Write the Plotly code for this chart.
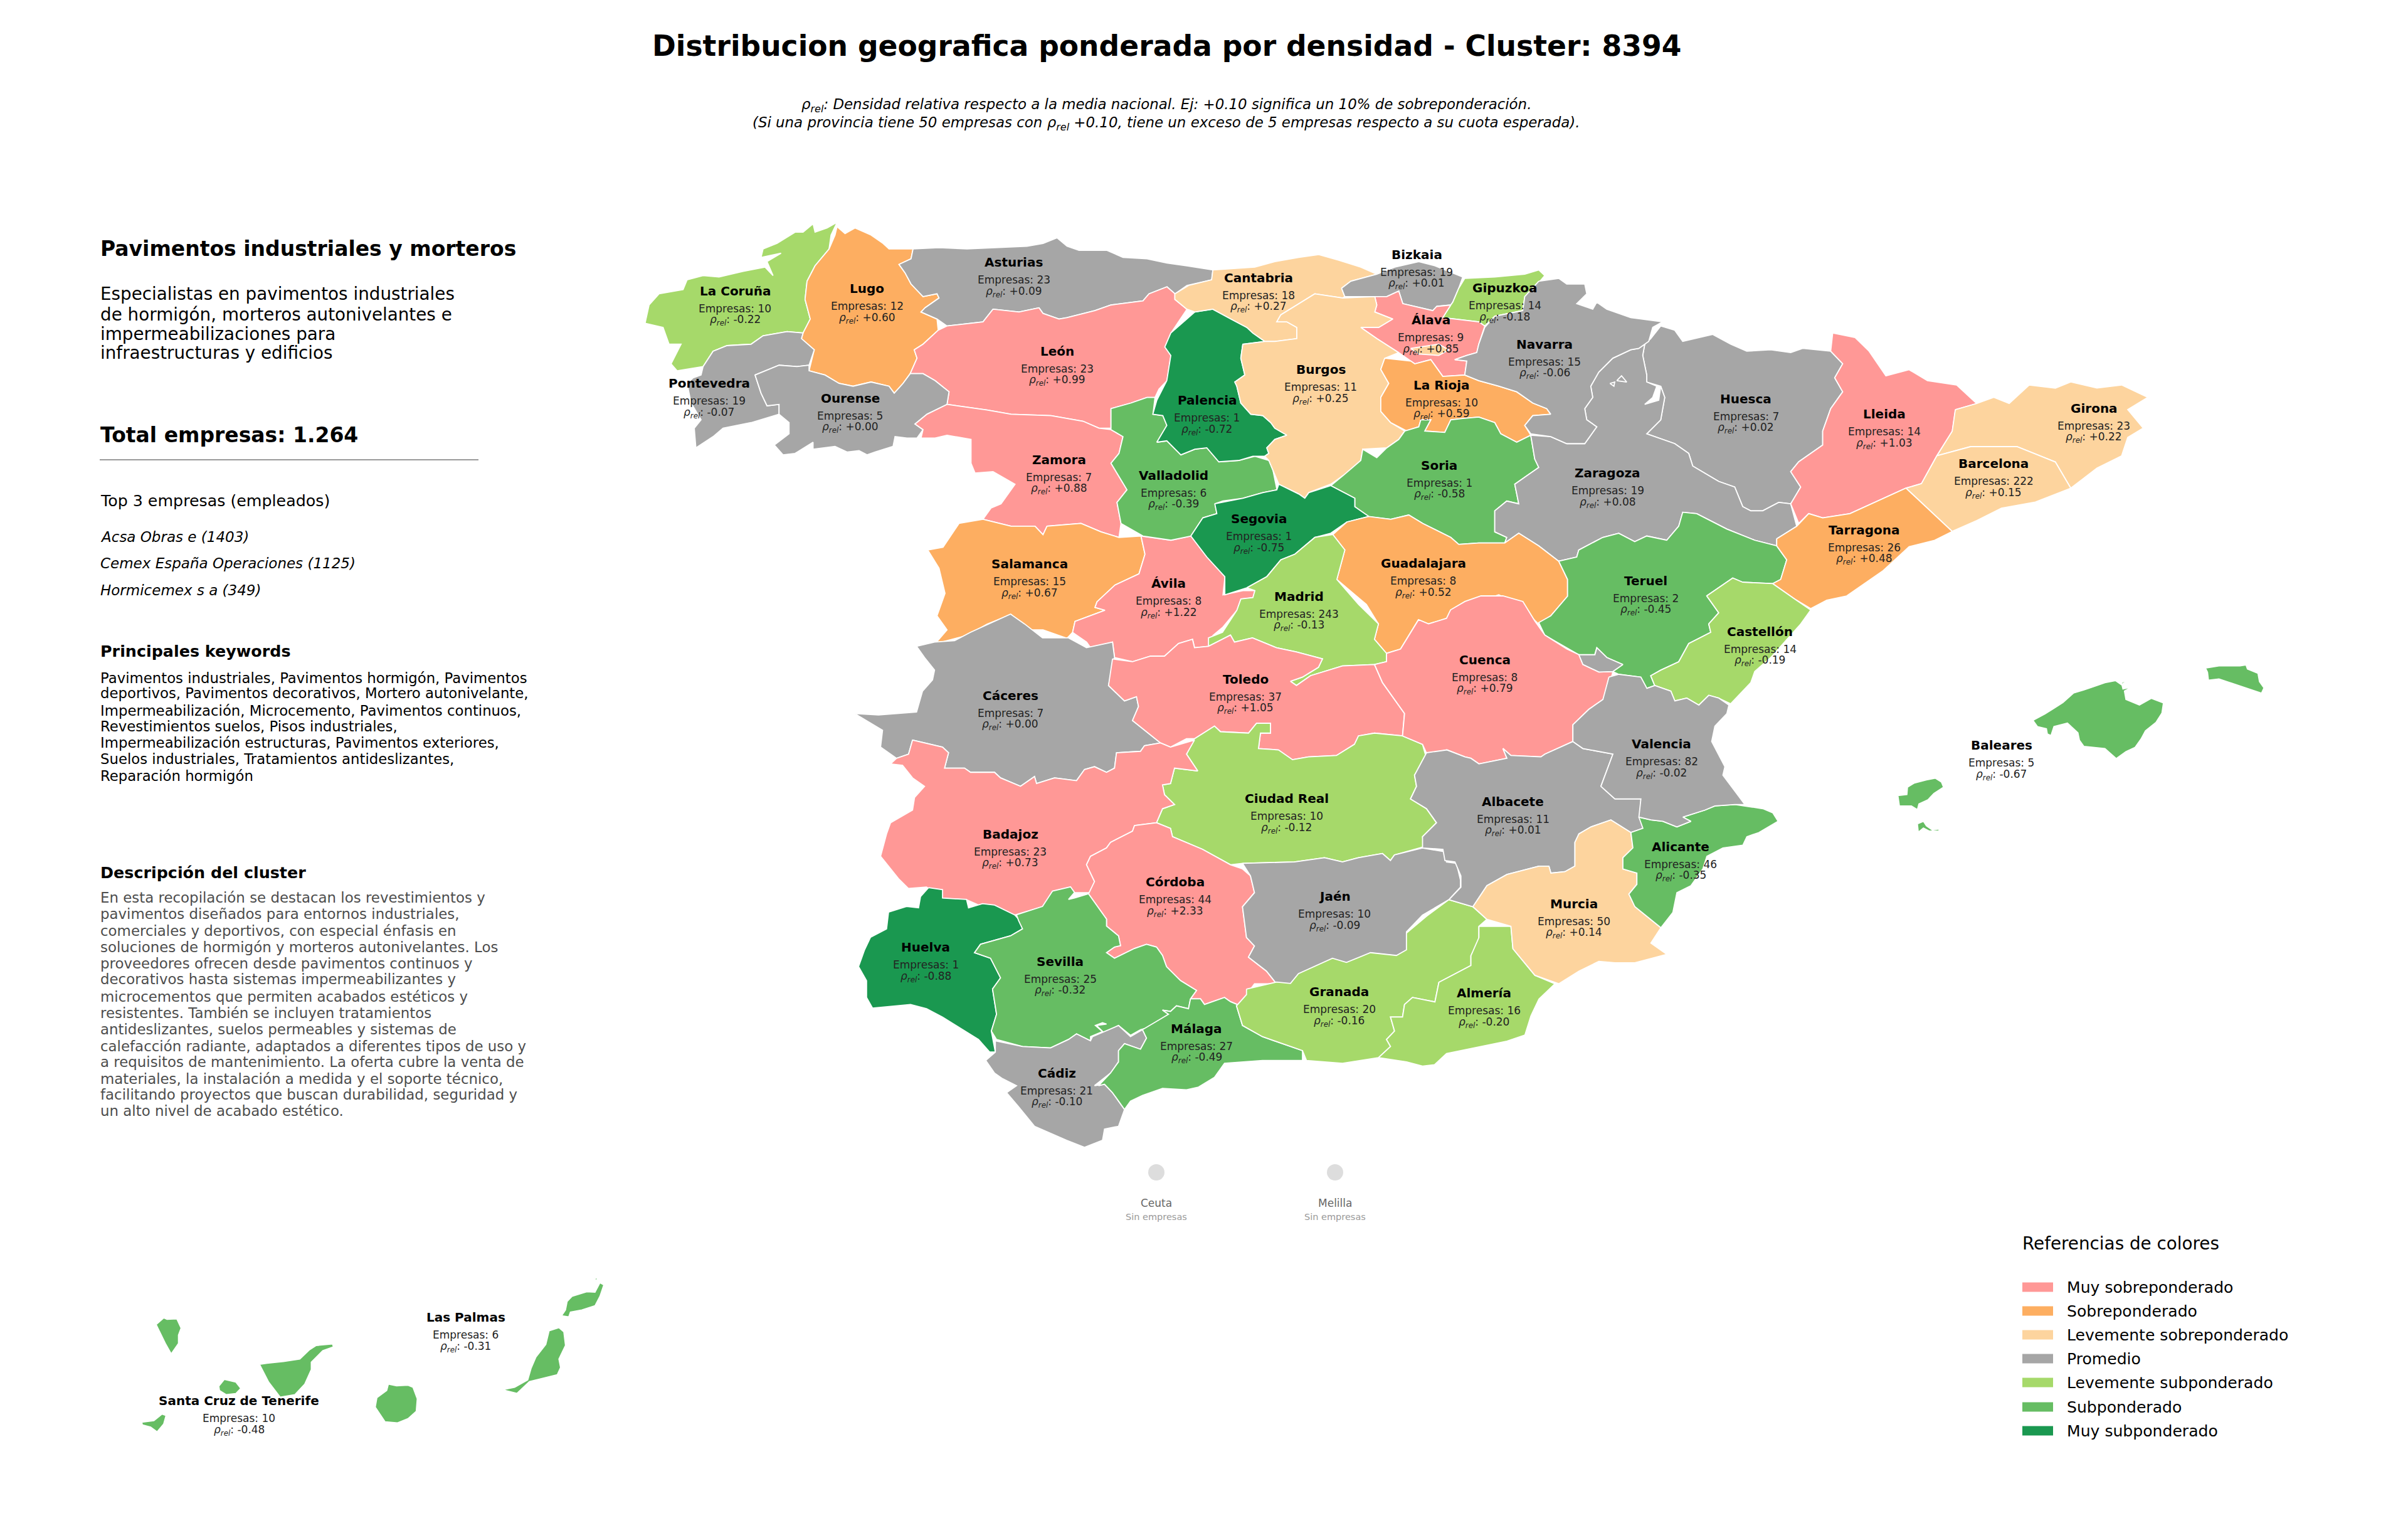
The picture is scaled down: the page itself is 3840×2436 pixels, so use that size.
import plotly.graph_objects as go

# Province data
PROVINCIAS = ["La Coruña", "Lugo", "Asturias", "León", "Pontevedra", "Ourense", "Zamora", "Salamanca", "Ávila",
              "Valladolid", "Palencia", "Cantabria", "Bizkaia", "Gipuzkoa", "Álava", "Burgos", "La Rioja", "Soria",
              "Huesca", "Zaragoza", "Navarra", "Segovia", "Guadalajara", "Madrid", "Teruel", "Lleida", "Girona",
              "Barcelona", "Tarragona", "Castellón", "Cáceres", "Toledo", "Ciudad Real", "Badajoz", "Córdoba", "Jaén",
              "Huelva", "Sevilla", "Cádiz", "Málaga", "Granada", "Almería", "Cuenca", "Albacete", "Murcia",
              "Alicante", "Valencia", "Baleares", "Las Palmas", "Santa Cruz de Tenerife"]
EMPRESAS = [10, 12, 23, 23, 19, 5, 7, 15, 8,
            6, 1, 18, 19, 14, 9, 11, 10, 1,
            7, 19, 15, 1, 8, 243, 2, 14, 23,
            222, 26, 14, 7, 37, 10, 23, 44, 10,
            1, 25, 21, 27, 20, 16, 8, 11, 50,
            46, 82, 5, 6, 10]
RHO = [-0.22, 0.60, 0.09, 0.99, -0.07, 0.00, 0.88, 0.67, 1.22,
       -0.39, -0.72, 0.27, 0.01, -0.18, 0.85, 0.25, 0.59, -0.58,
       0.02, 0.08, -0.06, -0.75, 0.52, -0.13, -0.45, 1.03, 0.22,
       0.15, 0.48, -0.19, 0.00, 1.05, -0.12, 0.73, 2.33, -0.09,
       -0.88, -0.32, -0.10, -0.49, -0.16, -0.20, 0.79, 0.01, 0.14,
       -0.35, -0.02, -0.67, -0.31, -0.48]

CATEGORIAS = ["Muy sobreponderado", "Sobreponderado", "Levemente sobreponderado", "Promedio",
              "Levemente subponderado", "Subponderado", "Muy subponderado"]
COLORES = ["#FF9896", "#FDAE61", "#FDD49E", "#A6A6A6", "#A6D96A", "#66BD63", "#1A9850"]

# Digitised tiles: name -> left, top, x scale, y scale
TILES = {"A": (1000, 330, 1.568, 2.24), "B": (1950, 330, 1.568, 2.24), "C": (1350, 950, 1.568, 2.24),
         "D": (1350, 1300, 1.568, 2.24), "E": (2250, 950, 1.568, 2.24), "OV": (0, 0, 0.4073, 0.4073),
         "BAL": (2950, 1050, 2.09, 3.0), "CAN": (180, 2020, 1.912, 3.0)}

# Outlines: province -> tile, list of rings
OUTLINES = {
    "La Coruña": ("A", [[(525,55),(510,100),(505,150),(470,210),(450,265),(445,330),(458,400),(440,450),(400,445),(340,460),(310,490),(250,495),(215,515),(190,570),(125,585),(110,560),(135,490),(105,490),(90,430),(45,415),(55,350),(80,310),(140,295),(150,260),(190,245),(230,250),(290,230),(345,215),(365,245),(350,195),(385,165),(335,180),(340,150),(375,130),(420,90),(440,90),(465,60),(470,90),(500,75)]]),
    "Lugo": ("A", [[(525,70),(545,95),(570,75),(610,100),(640,130),(655,150),(715,150),(710,185),(680,205),(695,235),(710,275),(740,320),(775,310),(780,325),(745,360),(735,375),(775,400),(778,440),(740,490),(718,510),(725,540),(708,595),(690,630),(668,665),(655,640),(610,625),(565,640),(530,630),(495,600),(455,585),(468,510),(436,470),(440,450),(458,400),(445,330),(450,265),(470,210),(505,150),(520,100)]]),
    "Asturias": ("A", [[(715,150),(780,145),(850,150),(920,145),(1000,140),(1040,130),(1075,110),(1100,140),(1130,155),(1200,155),(1240,180),(1300,185),(1350,200),(1400,210),(1465,225),(1462,260),(1400,280),(1370,310),(1350,285),(1305,310),(1290,335),(1210,350),(1170,370),(1100,395),(1080,400),(1040,380),(1030,360),(980,375),(915,365),(890,410),(800,425),(775,400),(735,375),(745,360),(780,325),(775,310),(740,320),(710,275),(695,235),(680,205),(710,185)]]),
    "León": ("A", [[(800,425),(890,410),(915,365),(980,375),(1030,360),(1040,380),(1080,400),(1100,395),(1170,370),(1210,350),(1290,335),(1305,310),(1350,285),(1370,310),(1370,330),(1400,365),(1360,450),(1345,500),(1360,530),(1350,620),(1330,650),(1320,680),(1300,680),(1260,700),(1210,720),(1210,790),(1180,790),(1140,765),(1060,745),(960,740),(900,725),(800,705),(805,660),(770,620),(740,595),(708,595),(725,540),(718,510),(740,490),(778,440)]]),
    "Pontevedra": ("A", [[(190,570),(215,515),(250,495),(310,490),(340,460),(400,445),(440,450),(436,470),(468,510),(455,565),(425,570),(380,565),(320,600),(335,665),(350,710),(380,705),(380,740),(310,770),(240,790),(215,820),(172,860),(168,790),(185,760),(160,700),(150,630),(165,610),(185,600)]]),
    "Ourense": ("A", [[(320,600),(380,565),(425,570),(455,565),(455,585),(495,600),(530,630),(565,640),(610,625),(655,640),(668,665),(690,630),(708,595),(740,595),(770,620),(805,660),(800,705),(750,740),(720,775),(740,795),(725,825),(700,825),(670,820),(665,855),(620,875),(600,885),(580,870),(550,875),(520,855),(465,865),(465,840),(420,880),(390,885),(368,850),(405,810),(405,770),(380,740),(380,705),(350,710),(335,665)]]),
    "Zamora": ("A", [[(800,705),(900,725),(960,740),(1060,745),(1140,765),(1180,790),(1210,795),(1240,820),(1230,880),(1210,915),(1250,1010),(1225,1055),(1235,1130),(1230,1180),(1185,1160),(1135,1130),(1050,1140),(1040,1170),(1020,1140),(960,1140),(890,1115),(910,1075),(935,1060),(970,990),(915,945),(870,950),(860,915),(860,830),(800,815),(770,825),(735,825),(740,795),(720,775),(750,740)]]),
    "Salamanca": ("A", [[(890,1115),(960,1140),(1020,1140),(1040,1170),(1050,1140),(1135,1130),(1185,1160),(1230,1180),(1285,1175),(1295,1240),(1280,1310),(1220,1350),(1175,1410),(1170,1430),(1195,1440),(1120,1480),(1114,1519),(1100,1540),(1040,1510),(1000,1510),(960,1455),(900,1490),(850,1530),(770,1560),(800,1510),(775,1460),(795,1380),(780,1290),(752,1225),(790,1215),(830,1130)]]),
    "Ávila": ("A", [[(1285,1175),(1360,1190),(1410,1175),(1450,1250),(1495,1320),(1490,1385),(1540,1370),(1570,1370),(1565,1395),(1535,1400),(1525,1440),(1490,1500),(1465,1530),(1454,1569),(1419,1574),(1414,1544),(1379,1559),(1344,1604),(1309,1604),(1264,1624),(1219,1609),(1214,1554),(1189,1564),(1159,1574),(1149,1554),(1114,1519),(1120,1480),(1195,1440),(1170,1430),(1175,1410),(1220,1350),(1280,1310),(1295,1240)]]),
    "Valladolid": ("A", [[(1210,720),(1260,700),(1300,680),(1320,680),(1315,740),(1340,745),(1350,780),(1325,840),(1350,835),(1385,885),(1420,865),(1450,860),(1480,910),(1530,905),(1570,890),(1605,905),(1615,940),(1625,1010),(1590,1020),(1540,1040),(1490,1050),(1470,1060),(1475,1095),(1440,1110),(1410,1175),(1360,1190),(1290,1175),(1235,1130),(1225,1055),(1250,1010),(1210,915),(1230,880),(1240,820),(1210,795)]]),
    "Palencia": ("B", [[(-70,375),(-25,365),(20,400),(60,430),(75,450),(105,480),(50,490),(45,540),(55,600),(30,625),(35,640),(45,700),(70,740),(100,745),(120,770),(130,790),(160,815),(130,830),(110,860),(115,880),(105,890),(75,890),(40,905),(-10,910),(-40,860),(-70,865),(-105,885),(-140,835),(-165,840),(-140,780),(-150,745),(-175,740),(-165,690),(-140,620),(-130,530),(-145,500),(-130,450)]]),
    "Cantabria": ("B", [[(-25,225),(80,215),(130,195),(190,180),(240,170),(290,190),(345,215),(385,240),(320,265),(297,290),(305,320),(300,325),(230,310),(185,350),(145,385),(135,410),(160,410),(185,430),(185,470),(130,480),(105,480),(75,450),(60,430),(20,400),(-25,365),(-70,375),(-90,365),(-120,330),(-120,310),(-85,280),(-28,260)]]),
    "Bizkaia": ("B", [[(297,290),(320,265),(385,240),(430,215),(490,195),(530,210),(600,250),(590,290),(575,340),(570,350),(535,355),(525,370),(450,345),(440,300),(410,320),(380,320),(305,320)]]),
    "Gipuzkoa": ("B", [[(605,255),(680,250),(755,240),(790,225),(805,245),(790,270),(755,320),(750,370),(680,390),(655,425),(640,410),(550,395),(570,350),(575,340),(590,290)]]),
    "Álava": ("B", [[(380,320),(410,320),(440,300),(450,345),(525,370),(535,355),(570,350),(550,395),(640,410),(655,425),(640,490),(635,520),(610,530),(580,545),(610,550),(605,600),(550,605),(520,545),(480,560),(460,540),(440,520),(385,470),(345,430),(390,430),(425,400),(380,375),(385,350)]]),
    "Burgos": ("B", [[(130,480),(185,470),(185,430),(160,410),(135,410),(145,385),(185,350),(230,310),(300,325),(380,320),(385,350),(380,375),(425,400),(390,430),(345,430),(385,470),(440,520),(405,540),(395,580),(415,630),(395,680),(395,730),(420,770),(455,800),(440,830),(410,860),(350,865),(345,905),(385,895),(300,960),(270,990),(215,1020),(205,1040),(190,1025),(140,990),(125,940),(115,905),(105,890),(115,880),(110,860),(130,830),(160,815),(130,790),(120,770),(100,745),(70,740),(45,700),(35,640),(30,625),(55,600),(45,540),(50,490),(105,480)],
                   [(470,505),(540,490),(565,510),(540,530),(490,525)]]),
    "La Rioja": ("B", [[(405,540),(440,545),(470,550),(480,560),(520,545),(550,605),(605,600),(640,620),(690,640),(735,660),(775,700),(810,720),(820,740),(775,745),(755,780),(770,815),(735,840),(695,810),(680,770),(640,750),(600,755),(570,760),(555,805),(505,800),(520,760),(495,760),(490,785),(460,800),(420,770),(395,730),(395,680),(415,630),(395,580)]]),
    "Soria": ("B", [[(455,800),(490,785),(495,760),(520,760),(505,800),(555,805),(570,760),(600,755),(640,750),(680,770),(695,810),(735,840),(770,815),(780,900),(790,930),(760,960),(730,990),(740,1060),(710,1050),(680,1085),(680,1160),(710,1180),(705,1200),(640,1200),(590,1205),(570,1180),(500,1130),(465,1100),(420,1115),(360,1105),(330,1070),(330,1040),(270,995),(300,960),(345,905),(350,865),(385,895),(410,860),(440,830)]]),
    "Huesca": ("B", [[(1095,425),(1130,440),(1150,480),(1180,470),(1225,455),(1270,490),(1310,515),(1370,510),(1420,520),(1450,505),(1520,515),(1550,560),(1530,610),(1550,660),(1520,720),(1500,800),(1500,850),(1440,910),(1420,945),(1445,1000),(1420,1060),(1390,1055),(1350,1085),(1320,1085),(1300,1070),(1280,1000),(1240,980),(1175,925),(1165,880),(1130,845),(1060,810),(1095,760),(1105,680),(1095,640),(1060,625),(1060,600),(1050,530),(1055,490),(1070,470)]]),
    "Zaragoza": ("B", [[(770,815),(820,820),(860,845),(905,845),(935,785),(910,760),(905,720),(925,680),(920,640),(940,590),(975,540),(1020,510),(1040,505),(1055,490),(1050,530),(1060,600),(1060,625),(1085,640),(1075,680),(1055,705),(1090,690),(1095,640),(1105,680),(1095,760),(1060,810),(1130,845),(1165,880),(1175,925),(1240,980),(1280,1000),(1300,1070),(1320,1085),(1350,1085),(1390,1055),(1420,1060),(1435,1140),(1385,1185),(1385,1210),(1330,1190),(1260,1150),(1185,1095),(1150,1090),(1140,1140),(1110,1190),(1060,1175),(1030,1195),(990,1165),(950,1180),(890,1225),(885,1250),(840,1265),(790,1210),(740,1165),(705,1200),(710,1180),(680,1160),(680,1085),(710,1050),(740,1060),(730,990),(760,960),(790,930),(780,900)]]),
    "Navarra": ("B", [[(790,265),(840,255),(860,275),(905,275),(910,310),(885,345),(925,365),(935,340),(960,365),(1020,395),(1100,410),(1075,430),(1065,480),(1040,505),(1020,510),(975,540),(940,590),(920,640),(925,680),(905,720),(910,760),(935,785),(905,845),(860,845),(820,820),(770,810),(755,780),(775,745),(820,740),(810,720),(775,700),(735,660),(690,640),(640,620),(605,600),(610,550),(580,545),(610,530),(635,520),(640,490),(655,430),(680,390),(750,370),(755,320)],
                    [(968,630),(980,625),(978,640)], [(985,620),(997,603),(1010,625)]]),
    "Segovia": ("B", [[(-20,1060),(50,1040),(100,1020),(135,1010),(140,990),(190,1025),(205,1040),(215,1020),(270,995),(330,1040),(330,1070),(365,1105),(310,1125),(270,1165),(230,1180),(180,1240),(145,1260),(110,1320),(60,1360),(5,1385),(5,1320),(-40,1250),(-80,1175),(-50,1110),(-15,1095)]]),
    "Guadalajara": ("B", [[(275,1170),(310,1125),(365,1105),(420,1115),(465,1100),(500,1130),(570,1180),(590,1205),(640,1200),(705,1200),(740,1165),(790,1210),(840,1265),(862,1330),(862,1390),(820,1460),(790,1490),(740,1420),(690,1385),(600,1430),(560,1470),(514,1489),(489,1474),(444,1579),(409,1594),(379,1544),(389,1489),(359,1419),(334,1389),(285,1330),(305,1225)]]),
    "Madrid": ("C", [[(1216,-219),(1246,-164),(1226,-59),(1280,30),(1330,100),(1320,155),(1350,205),(1350,235),(1320,245),(1240,250),(1160,285),(1125,320),(1110,305),(1140,290),(1180,255),(1190,225),(1125,200),(1075,185),(1015,150),(970,165),(960,140),(905,180),(905,150),(940,130),(976,51),(986,11),(1016,6),(1021,-19),(1001,-29),(1051,-69),(1086,-129),(1121,-149),(1171,-209)],
                  [(815,460),(850,490),(845,515),(810,540),(795,525)]]),
    "Teruel": ("B", [[(840,1265),(885,1250),(890,1225),(950,1180),(990,1165),(1030,1195),(1060,1175),(1110,1190),(1140,1140),(1150,1090),(1185,1095),(1260,1150),(1330,1190),(1385,1210),(1410,1260),(1395,1330),(1375,1345),(1300,1340),(1275,1325),(1240,1360),(1210,1389),(1240,1449),(1215,1489),(1220,1519),(1165,1559),(1140,1624),(1095,1654),(1070,1674),(1080,1709),(1060,1719),(1045,1679),(990,1669),(975,1659),(1000,1634),(960,1609),(935,1574),(930,1599),(890,1599),(805,1529),(790,1484),(820,1460),(862,1390),(862,1330)]]),
    "Lleida": ("B", [[(1525,450),(1581,466),(1616,515),(1658,603),(1716,581),(1762,620),(1835,636),(1885,702),(1832,724),(1824,801),(1785,889),(1747,988),(1708,1004),(1639,1049),(1568,1095),(1500,1110),(1465,1095),(1440,1130),(1420,1060),(1445,1000),(1420,945),(1440,910),(1500,850),(1500,800),(1520,720),(1550,660),(1530,610),(1550,560),(1520,515)]]),
    "Girona": ("OV", [[(1270,266),(1284,262),(1295,258),(1305,262),(1318,250),(1335,252),(1345,248),(1362,252),(1378,250),(1395,258),(1382,266),(1392,278),(1382,284),(1378,296),(1362,304),(1345,317),(1335,300),(1310,290),(1280,290),(1258,296),(1268,280)]]),
    "Barcelona": ("OV", [[(1258,296),(1280,290),(1310,290),(1335,300),(1345,317),(1322,326),(1300,330),(1284,338),(1268,345),(1238,317),(1248,314)]]),
    "Tarragona": ("B", [[(1385,1185),(1435,1140),(1465,1095),(1500,1110),(1568,1095),(1639,1049),(1708,1004),(1824,1159),(1780,1190),(1716,1213),(1650,1300),(1560,1389),(1510,1404),(1470,1434),(1430,1400),(1375,1345),(1395,1330),(1410,1260),(1385,1210)]]),
    "Castellón": ("B", [[(1210,1389),(1240,1360),(1275,1325),(1300,1340),(1375,1345),(1430,1400),(1470,1439),(1445,1489),(1370,1609),(1330,1659),(1320,1699),(1270,1774),(1240,1754),(1215,1744),(1190,1779),(1160,1754),(1130,1764),(1120,1729),(1080,1709),(1070,1674),(1095,1654),(1140,1624),(1165,1559),(1220,1519),(1215,1489),(1240,1449)]]),
    "Cáceres": ("C", [[(220,165),(270,160),(310,130),(370,90),(410,65),(445,100),(490,150),(555,150),(600,185),(665,165),(670,220),(655,320),(695,375),(725,360),(730,395),(715,445),(785,525),(745,535),(735,555),(675,560),(670,615),(650,630),(620,610),(595,620),(575,660),(520,650),(475,670),(470,645),(435,680),(385,650),(370,630),(310,630),(295,615),(245,615),(255,560),(240,540),(165,515),(155,565),(125,580),(85,540),(90,480),(20,420),(80,425),(175,415),(190,340),(215,300),(220,265),(195,220),(175,180)]]),
    "Toledo": ("C", [[(665,225),(715,235),(760,215),(795,215),(830,170),(865,155),(870,185),(905,180),(960,140),(970,165),(1015,150),(1075,185),(1125,200),(1190,225),(1180,255),(1140,290),(1110,305),(1125,320),(1160,285),(1240,250),(1320,245),(1340,310),(1395,420),(1390,500),(1320,490),(1280,500),(1270,530),(1225,570),(1155,575),(1115,585),(1080,550),(1030,545),(1035,490),(1060,490),(1060,455),(1025,455),(1005,490),(935,485),(920,465),(870,510),(850,510),(810,540),(785,525),(715,445),(730,395),(725,360),(695,375),(655,320)]]),
    "Ciudad Real": ("C", [[(870,510),(920,465),(935,485),(1005,490),(1025,455),(1060,455),(1060,490),(1035,490),(1030,545),(1080,550),(1115,585),(1155,575),(1225,570),(1270,530),(1280,500),(1320,490),(1390,500),(1440,530),(1450,580),(1420,640),(1425,680),(1410,725),(1450,760),(1475,810),(1440,860),(1445,895),(1370,925),(1360,945),(1340,920),(1280,935),(1240,950),(1195,935),(1120,950),(990,955),(960,960),(890,905),(815,860),(810,830),(775,810),(790,760),(820,745),(795,710),(790,675),(810,670),(820,615),(878,625),(850,565)]]),
    "Badajoz": ("C", [[(165,515),(240,540),(255,560),(245,615),(295,615),(310,630),(370,630),(385,650),(435,680),(470,645),(475,670),(520,650),(575,660),(595,620),(620,610),(650,630),(670,615),(675,560),(735,555),(745,535),(785,525),(810,540),(870,515),(850,565),(878,625),(820,615),(810,670),(790,675),(795,710),(820,745),(790,760),(775,810),(720,820),(715,840),(660,880),(650,900),(610,930),(600,960),(620,1020),(610,1060),(570,1060),(560,1040),(515,1055),(490,1110),(420,1140),(370,1110),(340,1110),(300,1085),(240,1080),(200,1040),(155,1045),(130,1010),(85,930),(100,850),(110,810),(165,765),(170,720),(195,680),(165,650),(140,605),(110,600),(125,580),(155,565)]]),
    "Córdoba": ("C", [[(720,820),(775,810),(810,830),(815,860),(890,905),(960,960),(990,975),(1010,1000),(1020,1060),(990,1110),(1000,1220),(1020,1250),(1005,1290),(1050,1340),(1075,1385),(1020,1385),(1000,1424),(985,1464),(960,1449),(945,1434),(895,1459),(885,1439),(860,1439),(875,1409),(835,1374),(800,1324),(790,1284),(775,1254),(750,1244),(720,1259),(670,1294),(650,1274),(670,1254),(685,1249),(680,1214),(650,1179),(650,1154),(605,1064),(620,1020),(600,960),(610,930),(650,900),(660,880),(715,840)]]),
    "Jaén": ("C", [[(990,955),(1120,950),(1195,935),(1240,950),(1280,935),(1340,920),(1360,945),(1370,925),(1440,900),(1500,915),(1500,950),(1525,955),(1535,1015),(1535,1040),(1506,1085),(1440,1140),(1400,1200),(1400,1270),(1375,1285),(1310,1275),(1250,1320),(1215,1295),(1130,1350),(1110,1385),(1075,1385),(1050,1340),(1005,1290),(1020,1250),(1000,1220),(990,1110),(1020,1060),(1010,1000)]]),
    "Huelva": ("D", [[(205,258),(240,265),(240,295),(300,300),(305,330),(340,315),(370,320),(420,355),(440,385),(440,405),(410,430),(335,460),(320,490),(360,510),(385,580),(365,620),(375,710),(362,770),(372,845),(358,845),(330,800),(240,720),(200,690),(160,675),(65,688),(50,650),(50,590),(30,540),(45,480),(60,435),(100,405),(105,345),(150,325),(180,330),(185,290)]]),
    "Sevilla": ("D", [[(425,355),(490,325),(515,270),(560,255),(570,275),(555,300),(570,295),(605,280),(650,370),(650,395),(680,430),(685,465),(670,470),(650,490),(670,510),(720,475),(750,460),(775,470),(790,500),(800,540),(835,590),(875,625),(860,655),(855,690),(825,680),(810,700),(790,695),(805,710),(760,755),(735,765),(710,785),(680,750),(650,785),(625,750),(650,745),(640,740),(622,750),(640,772),(610,790),(610,805),(575,780),(555,800),(510,830),(440,825),(375,800),(362,770),(375,710),(365,620),(385,580),(360,510),(320,490),(335,460),(410,430),(440,405),(430,375)]]),
    "Cádiz": ("D", [[(372,805),(440,825),(510,830),(555,800),(575,780),(610,805),(615,790),(680,750),(710,790),(740,765),(750,795),(735,835),(695,815),(680,840),(680,880),(660,920),(620,965),(645,960),(665,990),(680,1020),(695,1050),(680,1110),(645,1120),(640,1160),(595,1185),(550,1160),(470,1110),(430,1040),(400,990),(425,965),(390,940),(370,920),(348,875),(372,845)]]),
    "Málaga": ("D", [[(860,655),(885,655),(895,675),(945,650),(960,665),(985,680),(975,680),(990,750),(1040,790),(1090,815),(1140,840),(1140,875),(1090,875),(1040,875),(945,885),(920,935),(880,970),(850,980),(790,975),(740,1000),(710,1020),(695,1050),(680,1020),(665,990),(645,960),(630,965),(660,920),(680,880),(680,840),(695,815),(735,835),(750,795),(740,765),(805,710),(790,695),(810,700),(825,680),(855,690)]]),
    "Granada": ("D", [[(1000,620),(1075,595),(1110,600),(1130,565),(1215,510),(1250,525),(1310,490),(1375,500),(1400,480),(1400,420),(1450,360),(1506,301),(1566,326),(1601,371),(1581,396),(1581,450),(1561,501),(1561,536),(1481,596),(1471,666),(1415,650),(1395,675),(1390,720),(1360,720),(1370,770),(1350,800),(1360,825),(1330,865),(1240,885),(1150,875),(1140,840),(1090,815),(1040,790),(990,750),(975,680),(1000,640)]]),
    "Almería": ("E", [[(170,1180),(250,1180),(255,1260),(310,1355),(360,1385),(320,1440),(300,1500),(285,1568),(240,1590),(157,1614),(89,1634),(59,1674),(29,1679),(-11,1664),(-81,1649),(-51,1609),(-61,1584),(-41,1554),(-51,1504),(-21,1504),(-16,1459),(4,1434),(60,1450),(70,1380),(150,1320),(150,1285),(170,1220)]]),
    "Cuenca": ("E", [[(-91,245),(-61,235),(-61,205),(-26,190),(19,85),(44,100),(89,80),(99,50),(135,20),(175,0),(230,0),(280,20),(310,90),(335,140),(390,190),(420,210),(430,245),(470,272),(505,270),(495,330),(480,370),(445,405),(405,460),(405,520),(335,565),(325,575),(250,570),(230,545),(240,580),(170,600),(150,580),(135,575),(90,550),(40,565),(29,530),(-21,500),(-16,420),(-71,310)]]),
    "Albacete": ("E", [[(39,560),(90,550),(135,575),(150,580),(170,600),(240,580),(230,545),(250,570),(325,575),(335,565),(405,520),(430,545),(505,565),(475,680),(510,725),(575,725),(575,790),(580,830),(550,845),(500,800),(450,825),(420,850),(410,880),(410,965),(385,985),(350,990),(345,965),(320,965),(240,995),(190,1035),(155,1110),(95,1085),(125,1040),(125,1000),(110,950),(85,945),(80,905),(29,900),(29,860),(64,810),(39,760),(-1,725),(14,680),(9,640)]]),
    "Murcia": ("E", [[(155,1110),(190,1035),(240,995),(320,965),(345,965),(350,990),(385,985),(410,965),(410,880),(420,850),(450,825),(500,800),(550,845),(555,900),(530,935),(530,975),(565,990),(565,1030),(545,1065),(560,1110),(625,1185),(600,1240),(640,1280),(560,1310),(510,1310),(470,1305),(420,1340),(370,1385),(310,1355),(255,1260),(250,1180),(190,1155)]]),
    "Alicante": ("E", [[(570,790),(600,800),(630,805),(665,825),(700,805),(680,790),(735,765),(760,750),(810,745),(880,760),(905,775),(918,805),(870,845),(840,860),(830,890),(780,900),(740,930),(730,975),(700,1035),(665,1060),(655,1130),(625,1185),(560,1110),(545,1065),(565,1030),(565,990),(530,975),(530,935),(555,900),(550,845),(580,830)]]),
    "Valencia": ("E", [[(495,290),(520,280),(575,290),(590,330),(610,320),(650,340),(660,375),(690,365),(720,390),(745,355),(770,365),(795,390),(790,420),(760,465),(752,520),(785,610),(780,640),(835,745),(810,745),(760,750),(735,765),(680,790),(700,805),(665,825),(630,805),(600,800),(570,790),(575,725),(510,725),(475,680),(505,565),(430,545),(405,520),(405,460),(445,405),(480,370)],
                     [(420,210),(460,210),(465,185),(490,220),(530,245),(505,270),(470,272),(430,245)]]),
    "Baleares": ("BAL", [[(610,295),(650,265),(680,238),(710,210),(745,165),(780,150),(820,130),(850,115),(885,105),(905,125),(938,90),(905,115),(910,145),(940,135),(915,155),(920,195),(965,222),(1005,190),(1045,212),(1040,260),(1020,305),(985,345),(970,385),(950,425),(920,445),(888,478),(850,430),(780,420),(765,390),(760,355),(725,308),(680,325),(670,368),(658,360),(655,335),(625,325)],
                         [(1185,45),(1230,35),(1300,35),(1320,30),(1325,50),(1360,70),(1365,110),(1380,140),(1372,165),(1320,140),(1280,120),(1230,97),(1195,103),(1192,65)],
                         [(160,655),(190,650),(192,615),(215,595),(255,580),(285,572),(305,590),(312,615),(280,645),(260,675),(230,695),(225,722),(205,705),(165,705)],
                         [(225,790),(245,778),(255,800),(275,820),(297,815),(297,825),(265,825),(245,810),(228,830)]]),
    "Las Palmas": ("CAN", [[(840,560),(865,568),(900,565),(915,575),(928,630),(925,690),(900,725),(868,745),(830,740),(800,670),(805,625),(835,590)],
                           [(1188,587),(1225,575),(1265,540),(1275,485),(1290,430),(1320,370),(1330,305),(1360,290),(1375,310),(1380,375),(1360,440),(1365,480),(1355,515),(1270,548),(1232,604)],
                           [(1368,233),(1380,205),(1385,165),(1400,140),(1445,118),(1470,120),(1485,75),(1497,85),(1485,140),(1470,185),(1430,205),(1395,215),(1390,238)],
                           [(1470,50),(1478,55),(1472,68)]]),
    "Santa Cruz de Tenerife": ("CAN", [[(132,275),(155,243),(165,250),(195,248),(208,292),(200,325),(200,365),(178,415),(160,365)],
                                       [(447,465),(470,460),(520,452),(570,440),(600,395),(620,375),(670,368),(672,382),(640,400),(605,455),(605,490),(585,560),(555,610),(510,622),(475,550)],
                                       [(323,570),(340,537),(375,550),(390,580),(375,605),(345,610),(325,590)],
                                       [(88,742),(125,735),(150,703),(162,710),(155,750),(135,788),(115,765),(90,755)]]),
}

# Where each province name sits: province -> tile, x, y
LABEL_AT = {
    "La Coruña": ("A", 270, 300), "Lugo": ("A", 600, 292), "Asturias": ("A", 967, 198), "León": ("A", 1075, 515),
    "Pontevedra": ("A", 205, 630), "Ourense": ("A", 558, 683), "Zamora": ("A", 1080, 902), "Salamanca": ("A", 1006, 1275),
    "Ávila": ("A", 1354, 1345), "Valladolid": ("A", 1366, 958), "Palencia": ("A", 1450, 690),
    "Cantabria": ("B", 90, 252), "Bizkaia": ("B", 485, 170), "Gipuzkoa": ("B", 705, 290), "Álava": ("B", 520, 404),
    "Navarra": ("B", 805, 490), "Burgos": ("B", 245, 581), "La Rioja": ("B", 548, 636), "Soria": ("B", 541, 922),
    "Huesca": ("B", 1308, 685), "Zaragoza": ("B", 962, 950), "Segovia": ("B", 90, 1114), "Guadalajara": ("B", 501, 1273),
    "Madrid": ("B", 190, 1390), "Teruel": ("B", 1057, 1335),
    "Lleida": ("OV", 1224, 269), "Girona": ("OV", 1360, 265), "Barcelona": ("OV", 1295, 301), "Tarragona": ("OV", 1211, 344),
    "Cáceres": ("C", 410, 356), "Toledo": ("C", 998, 297), "Ciudad Real": ("C", 1100, 724), "Badajoz": ("C", 410, 851),
    "Córdoba": ("C", 821, 1022), "Jaén": ("C", 1220, 1073), "Huelva": ("C", 198, 1255), "Sevilla": ("C", 534, 1305),
    "Málaga": ("D", 875, 761), "Granada": ("D", 1232, 630), "Cádiz": ("D", 526, 920),
    "Castellón": ("E", 873, 127), "Cuenca": ("E", 185, 228), "Valencia": ("E", 627, 529), "Albacete": ("E", 255, 734),
    "Alicante": ("E", 675, 895), "Murcia": ("E", 408, 1099), "Almería": ("E", 183, 1418), "Baleares": ("E", 1477, 534),
    "Las Palmas": ("CAN", 1076, 240), "Santa Cruz de Tenerife": ("CAN", 385, 640),
}

# Side panel text
KEYWORDS = ["Pavimentos industriales, Pavimentos hormigón, Pavimentos",
            "deportivos, Pavimentos decorativos, Mortero autonivelante,",
            "Impermeabilización, Microcemento, Pavimentos continuos,",
            "Revestimientos suelos, Pisos industriales,",
            "Impermeabilización estructuras, Pavimentos exteriores,",
            "Suelos industriales, Tratamientos antideslizantes,",
            "Reparación hormigón"]
KEYWORD_Y = [1081, 1105, 1133, 1158, 1184, 1210, 1237]
DESCRIPCION = ["En esta recopilación se destacan los revestimientos y",
               "pavimentos diseñados para entornos industriales,",
               "comerciales y deportivos, con especial énfasis en",
               "soluciones de hormigón y morteros autonivelantes. Los",
               "proveedores ofrecen desde pavimentos continuos y",
               "decorativos hasta sistemas impermeabilizantes y",
               "microcementos que permiten acabados estéticos y",
               "resistentes. También se incluyen tratamientos",
               "antideslizantes, suelos permeables y sistemas de",
               "calefacción radiante, adaptados a diferentes tipos de uso y",
               "a requisitos de mantenimiento. La oferta cubre la venta de",
               "materiales, la instalación a medida y el soporte técnico,",
               "facilitando proyectos que buscan durabilidad, seguridad y",
               "un alto nivel de acabado estético."]
DESCRIPCION_Y = [1431, 1457, 1484, 1510, 1536, 1561, 1589, 1615, 1641, 1668, 1693, 1720, 1745, 1771]
LEGEND_Y = [2052, 2090, 2128, 2166, 2204, 2243, 2281]

FONT = "DejaVu Sans"
RHO_TXT = "<i>ρ<sub>rel</sub></i>"
PAGE_MARGIN = 8  # the browser keeps an 8px body margin around the plot


def categoria(r):
    if r > 0.70:
        return 0
    if r > 0.30:
        return 1
    if r > 0.10:
        return 2
    if r >= -0.10:
        return 3
    if r >= -0.30:
        return 4
    if r >= -0.70:
        return 5
    return 6


def to_map(tile, x, y):
    left, top, sx, sy = TILES[tile]
    return left + x / sx, top + y / sy


def text(x, y, s, size, color="#000000", anchor="left"):
    fig.add_annotation(x=x, y=y, text=s, showarrow=False, xanchor=anchor, yanchor="middle",
                       font=dict(family=FONT, size=size, color=color), xref="x", yref="y",
                       borderpad=0, borderwidth=0)


fig = go.Figure()

# Province polygons
for name, n, r in zip(PROVINCIAS, EMPRESAS, RHO):
    tile, rings = OUTLINES[name]
    xs, ys = [], []
    for ring in rings:
        for px, py in ring + ring[:1]:
            mx, my = to_map(tile, px, py)
            xs.append(mx)
            ys.append(my)
        xs.append(None)
        ys.append(None)
    fig.add_trace(go.Scatter(x=xs, y=ys, mode="lines", fill="toself", name=name,
                             fillcolor=COLORES[categoria(r)], line=dict(color="#FFFFFF", width=1.8),
                             hoverinfo="text", text=f"{name}: {n}", showlegend=False))

# Ceuta and Melilla have no companies
fig.add_trace(go.Scatter(x=[1844, 2129], y=[1869, 1869], mode="markers", hoverinfo="skip", showlegend=False,
                         marker=dict(size=26, color="#DDDDDD")))
for cx, name in [(1844, "Ceuta"), (2129, "Melilla")]:
    text(cx, 1918, name, 17, "#666666", "center")
    text(cx, 1940, "Sin empresas", 14.5, "#999999", "center")

# Province labels
for name, n, r in zip(PROVINCIAS, EMPRESAS, RHO):
    tile, lx, ly = LABEL_AT[name]
    mx, my = to_map(tile, lx, ly)
    text(mx, my, f"<b>{name}</b>", 20, "#000000", "center")
    text(mx, my + 28, f"Empresas: {n}", 17, "#222222", "center")
    text(mx, my + 47, f"{RHO_TXT}: {r:+.2f}", 17, "#222222", "center")

# Title block
text(1860, 73, "<b>Distribucion geografica ponderada por densidad - Cluster: 8394</b>", 45.6, "#000000", "center")
text(1860, 168, f"{RHO_TXT}<i>: Densidad relativa respecto a la media nacional. Ej: +0.10 significa un 10% de sobreponderación.</i>",
     22.9, "#000000", "center")
text(1860, 197, f"<i>(Si una provincia tiene 50 empresas con </i>{RHO_TXT}<i> +0.10, tiene un exceso de 5 empresas respecto a su cuota esperada).</i>",
     22.9, "#000000", "center")

# Side panel
text(160, 396, "<b>Pavimentos industriales y morteros</b>", 33)
for y, s in zip([468, 501, 532, 562], ["Especialistas en pavimentos industriales", "de hormigón, morteros autonivelantes e",
                                       "impermeabilizaciones para", "infraestructuras y edificios"]):
    text(160, y, s, 27.8)
text(160, 693, "<b>Total empresas: 1.264</b>", 33)
fig.add_shape(type="line", x0=159, x1=763, y0=733, y1=733, line=dict(color="#999999", width=2))
text(160, 798, "Top 3 empresas (empleados)", 25.3)
for y, s in zip([856, 898, 941], ["Acsa Obras e (1403)", "Cemex España Operaciones (1125)", "Hormicemex s a (349)"]):
    text(160, y, f"<i>{s}</i>", 23)
text(160, 1038, "<b>Principales keywords</b>", 25.4)
for y, s in zip(KEYWORD_Y, KEYWORDS):
    text(160, y, s, 22.8)
text(160, 1391, "<b>Descripción del cluster</b>", 25.4)
for y, s in zip(DESCRIPCION_Y, DESCRIPCION):
    text(160, y, s, 22.9, "#4D4D4D")

# Colour key
text(3225, 1982, "Referencias de colores", 27.8)
for y, cat, col in zip(LEGEND_Y, CATEGORIAS, COLORES):
    fig.add_shape(type="rect", x0=3225, x1=3274, y0=y - 7.5, y1=y + 7.5, fillcolor=col, line_width=0)
    text(3296, y, cat, 25.1)

fig.update_xaxes(range=[PAGE_MARGIN, 3840], visible=False, fixedrange=True)
fig.update_yaxes(range=[2436, PAGE_MARGIN], visible=False, fixedrange=True)
fig.update_layout(width=3840 - PAGE_MARGIN, height=2436 - PAGE_MARGIN, margin=dict(l=0, r=0, t=0, b=0),
                  paper_bgcolor="white", plot_bgcolor="white", showlegend=False, font=dict(family=FONT))

fig.write_html("out.html")
